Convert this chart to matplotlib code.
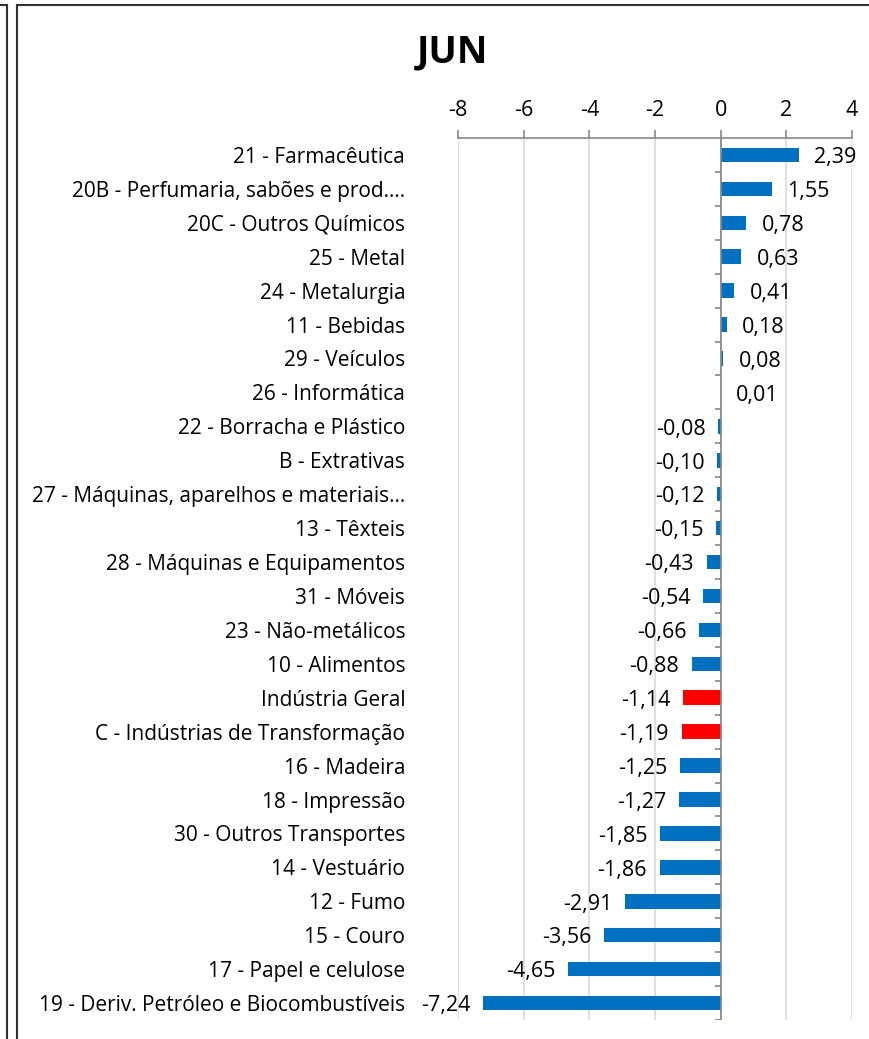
import matplotlib
matplotlib.use("Agg")
import matplotlib.pyplot as plt
import numpy as np

plt.rcParams['font.family'] = ['Open Sans', 'DejaVu Sans']

categories = [
    "21 - Farmacêutica",
    "20B - Perfumaria, sabões e prod.…",
    "20C - Outros Químicos",
    "25 - Metal",
    "24 - Metalurgia",
    "11 - Bebidas",
    "29 - Veículos",
    "26 - Informática",
    "22 - Borracha e Plástico",
    "B - Extrativas",
    "27 - Máquinas, aparelhos e materiais…",
    "13 - Têxteis",
    "28 - Máquinas e Equipamentos",
    "31 - Móveis",
    "23 - Não-metálicos",
    "10 - Alimentos",
    "Indústria Geral",
    "C - Indústrias de Transformação",
    "16 - Madeira",
    "18 - Impressão",
    "30 - Outros Transportes",
    "14 - Vestuário",
    "12 - Fumo",
    "15 - Couro",
    "17 - Papel e celulose",
    "19 - Deriv. Petróleo e Biocombustíveis",
]
values = [2.39, 1.55, 0.78, 0.63, 0.41, 0.18, 0.08, 0.01, -0.08, -0.10, -0.12, -0.15,
          -0.43, -0.54, -0.66, -0.88, -1.14, -1.19, -1.25, -1.27, -1.85, -1.86,
          -2.91, -3.56, -4.65, -7.24]
highlight = ["Indústria Geral", "C - Indústrias de Transformação"]
xticks = [-8, -6, -4, -2, 0, 2, 4]
title = "JUN"

BLUE = "#0070C0"
RED = "#FF0000"
GRAY = "#868686"

W, H = 869, 1039
fig = plt.figure(figsize=(W / 100, H / 100), dpi=100)

left, right, top, bottom = 458, 852, 138, 1020
ax = fig.add_axes([left / W, 1 - bottom / H, (right - left) / W, (bottom - top) / H])

n = len(categories)
y = np.arange(n)
colors = [RED if c in highlight else BLUE for c in categories]
ax.barh(y, values, height=0.43, color=colors, zorder=3)

ax.set_xlim(-8, 4)
ax.set_ylim(n - 0.5, -0.5)

ax.xaxis.tick_top()
ax.set_xticks(xticks)
ax.set_xticklabels([str(t) for t in xticks], fontsize=15.5)
ax.tick_params(axis='x', direction='out', length=6, color=GRAY, width=1.2, pad=6)
ax.grid(axis='x', color="#D9D9D9", linewidth=1.2, zorder=0)

for s in ['left', 'right', 'bottom']:
    ax.spines[s].set_visible(False)
ax.spines['top'].set_color(GRAY)
ax.spines['top'].set_linewidth(1.2)

ax.set_yticks(y)
ax.set_yticklabels(categories, fontsize=15)
ax.tick_params(axis='y', length=0, pad=38)

# zero axis line with category boundary ticks
ax.axvline(0, color=GRAY, linewidth=1.2, zorder=4)
bounds = np.arange(n + 1) - 0.5
ax.hlines(bounds[1:], -0.17, 0, color=GRAY, linewidth=1.2, zorder=4)

# data labels
for yi, v in zip(y, values):
    lab = f"{v:.2f}".replace(".", ",")
    if v >= 0:
        ax.annotate(lab, (v, yi), xytext=(11, -2), textcoords='offset points',
                    ha='left', va='center', fontsize=15.5)
    else:
        ax.annotate(lab, (v, yi), xytext=(-9, -2), textcoords='offset points',
                    ha='right', va='center', fontsize=15.5)

fig.text(452 / W, 1 - 52 / H, title, ha='center', va='center', fontsize=27, fontweight='bold')

# chart frames
fig.add_artist(plt.Line2D([17 / W, 17 / W], [0, 1 - 5 / H], color="#333333", linewidth=1.5, transform=fig.transFigure))
fig.add_artist(plt.Line2D([17 / W, 1], [1 - 5 / H, 1 - 5 / H], color="#333333", linewidth=1.5, transform=fig.transFigure))
fig.add_artist(plt.Line2D([7 / W, 7 / W], [0, 1 - 5 / H], color="#333333", linewidth=1.5, transform=fig.transFigure))
fig.add_artist(plt.Line2D([0, 7 / W], [1 - 5 / H, 1 - 5 / H], color="#333333", linewidth=1.5, transform=fig.transFigure))

fig.savefig("out.png", dpi=100)
